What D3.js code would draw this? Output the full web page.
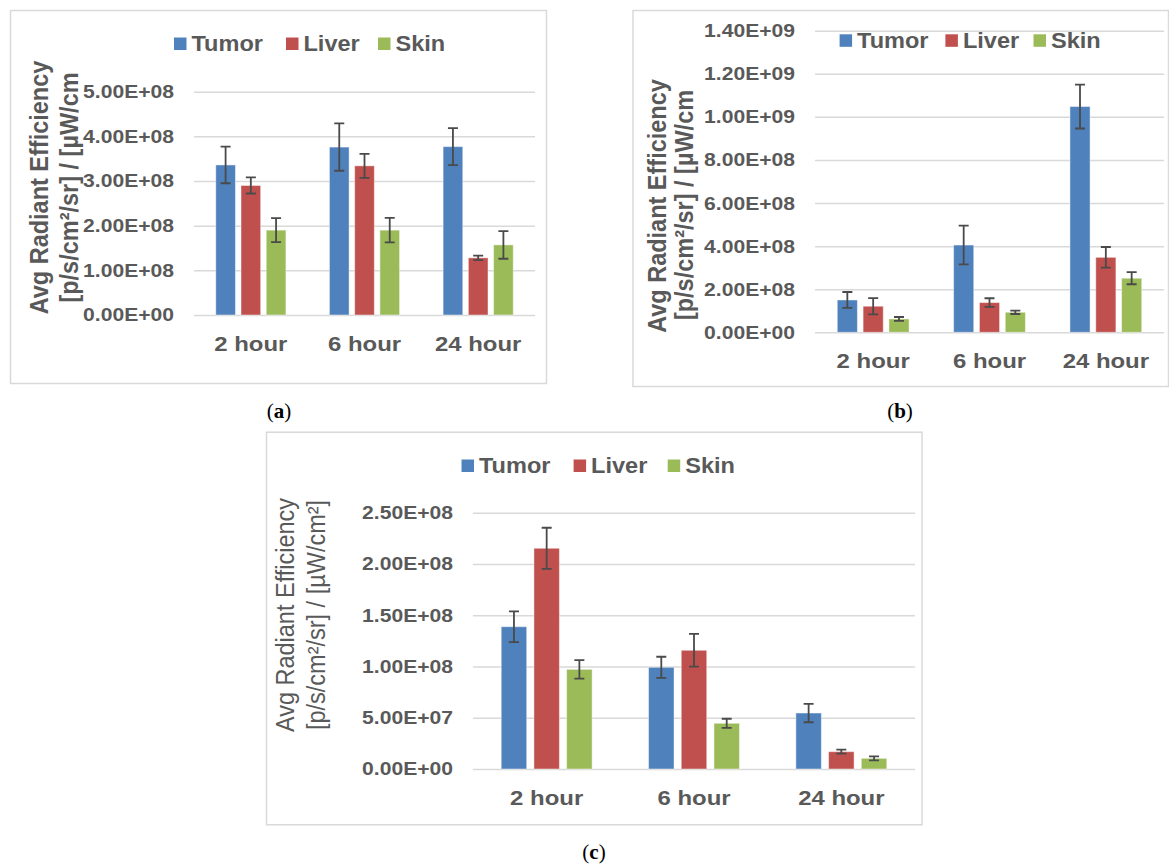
<!DOCTYPE html>
<html>
<head>
<meta charset="utf-8">
<script src="https://cdn.jsdelivr.net/npm/d3@7"></script>
<style>
  html, body { margin: 0; padding: 0; background: #ffffff; }
  svg { display: block; }
</style>
</head>
<body>
<svg id="fig" width="1169" height="864"></svg>
<script>
// Shared categories and series
const categories = ["2 hour", "6 hour", "24 hour"];
const seriesNames = ["Tumor", "Liver", "Skin"];
const seriesColors = ["#4F81BD", "#C0504D", "#9BBB59"];

// Panel (a): mean values and error (±) per series
const tumorA = [3.36e8, 3.76e8, 3.77e8];
const tumorErrA = [0.41e8, 0.53e8, 0.415e8];
const liverA = [2.90e8, 3.34e8, 1.28e8];
const liverErrA = [0.18e8, 0.27e8, 0.05e8];
const skinA = [1.90e8, 1.90e8, 1.57e8];
const skinErrA = [0.27e8, 0.275e8, 0.31e8];
const yTicksA = [0, 1e8, 2e8, 3e8, 4e8, 5e8];

// Panel (b)
const tumorB = [1.50e8, 4.05e8, 10.48e8];
const tumorErrB = [0.37e8, 0.90e8, 1.02e8];
const liverB = [1.21e8, 1.38e8, 3.48e8];
const liverErrB = [0.38e8, 0.20e8, 0.48e8];
const skinB = [0.62e8, 0.93e8, 2.51e8];
const skinErrB = [0.09e8, 0.08e8, 0.28e8];
const yTicksB = [0, 2e8, 4e8, 6e8, 8e8, 10e8, 12e8, 14e8];

// Panel (c)
const tumorC = [1.388e8, 0.992e8, 0.546e8];
const tumorErrC = [0.15e8, 0.103e8, 0.09e8];
const liverC = [2.153e8, 1.158e8, 0.169e8];
const liverErrC = [0.20e8, 0.16e8, 0.02e8];
const skinC = [0.972e8, 0.446e8, 0.104e8];
const skinErrC = [0.09e8, 0.044e8, 0.02e8];
const yTicksC = [0, 0.5e8, 1e8, 1.5e8, 2e8, 2.5e8];

// Axis titles
const titleLine1 = "Avg Radiant Efficiency";
const titleLine2Short = "[p/s/cm²/sr] / [µW/cm";
const titleLine2Full = "[p/s/cm²/sr] / [µW/cm²]";

const TEXT = "#595959";
const GRID = "#d9d9d9";
const FONT = "'Liberation Sans', Arial, sans-serif";

// Excel-style scientific labels: 5.00E+08
function sci(v) {
  const s = d3.format(".2e")(v);
  const [m, e] = s.split("e");
  return m + "E" + e[0] + e.slice(1).padStart(2, "0");
}

const svg = d3.select("#fig");
svg.append("rect").attr("width", 1169).attr("height", 864).attr("fill", "#fff");

function drawPanel(p) {
  const g = svg.append("g");

  // frame
  g.append("rect")
    .attr("x", p.box[0] + 0.5).attr("y", p.box[1] + 0.5)
    .attr("width", p.box[2] - p.box[0]).attr("height", p.box[3] - p.box[1])
    .attr("fill", "none").attr("stroke", GRID).attr("stroke-width", 1.5);

  const y = d3.scaleLinear().domain([0, p.yMax]).range([p.y0, p.yTop]);
  const x = d3.scaleBand().domain(categories).range([p.x0, p.x1]);
  const band = x.bandwidth();
  const barW = band * 0.173;
  const step = band * 0.222;
  const sub = d3.scalePoint().domain(seriesNames).range([-step, step]);

  // gridlines + tick labels
  const tickSx = 1.135;
  const yAxis = g.append("g")
    .attr("transform", `translate(${p.x0},0)`)
    .call(d3.axisLeft(y).tickValues(p.ticks).tickFormat(sci)
      .tickSize(-(p.x1 - p.x0)).tickPadding(20));
  yAxis.select(".domain").remove();
  yAxis.selectAll(".tick line").attr("stroke", GRID).attr("stroke-width", 1.5);
  yAxis.selectAll(".tick text")
    .attr("fill", TEXT).attr("font-family", FONT).attr("font-weight", "bold")
    .attr("font-size", 18.6)
    .attr("x", -20 / tickSx)
    .attr("transform", `scale(${tickSx},1)`);

  // bars
  const rows = [];
  p.series.forEach((s, i) => {
    categories.forEach((c, j) => {
      rows.push({ name: seriesNames[i], color: seriesColors[i], cat: c, v: s.values[j], e: s.err[j] });
    });
  });
  const cx = d => x(d.cat) + band / 2 + sub(d.name);

  g.append("g").selectAll("rect").data(rows).join("rect")
    .attr("x", d => cx(d) - barW / 2)
    .attr("y", d => y(d.v))
    .attr("width", barW)
    .attr("height", d => y(0) - y(d.v))
    .attr("fill", d => d.color)
    .attr("stroke", "#ffffff").attr("stroke-opacity", 0.45).attr("stroke-width", 1);

  // error bars
  const eb = g.append("g").attr("stroke", "#4a4a4a").attr("stroke-width", 1.8).attr("fill", "none");
  eb.selectAll("path").data(rows).join("path")
    .attr("d", d => {
      const xc = cx(d), t = y(d.v + d.e), b = y(d.v - d.e), hw = 5;
      return `M${xc},${t}V${b}M${xc - hw},${t}H${xc + hw}M${xc - hw},${b}H${xc + hw}`;
    });

  // category labels
  const labSx = 1.14;
  const xAxis = g.append("g")
    .attr("transform", `translate(0,${p.y0})`)
    .call(d3.axisBottom(x).tickSize(0).tickPadding(21));
  xAxis.select(".domain").remove();
  xAxis.selectAll(".tick text")
    .attr("fill", TEXT).attr("font-family", FONT).attr("font-weight", "bold")
    .attr("font-size", 21)
    .attr("transform", `scale(${labSx},1)`);

  // legend
  const legSx = 1.07;
  seriesNames.forEach((n, i) => {
    const lx = p.legendX[i];
    g.append("rect")
      .attr("x", lx).attr("y", p.legendY - 6)
      .attr("width", 12.5).attr("height", 12.5)
      .attr("fill", seriesColors[i]);
    g.append("text")
      .attr("transform", `translate(${lx + 17.5},${p.legendY + 7.5}) scale(${legSx},1)`)
      .attr("fill", TEXT).attr("font-family", FONT).attr("font-weight", "bold")
      .attr("font-size", 22)
      .text(n);
  });

  // rotated axis title (two lines)
  p.titles.forEach(t => {
    g.append("text")
      .attr("transform", `translate(${t.x},${t.y}) scale(1.12,1) rotate(-90)`)
      .attr("text-anchor", "middle").attr("dy", "0.32em")
      .attr("fill", TEXT).attr("font-family", FONT)
      .attr("font-weight", p.titleWeight).attr("font-size", 23.5)
      .text(t.text);
  });

  // caption
  const cap = svg.append("text")
    .attr("x", p.caption[0]).attr("y", p.caption[1])
    .attr("text-anchor", "middle")
    .attr("font-family", "'Liberation Serif', 'DejaVu Serif', serif")
    .attr("font-size", 21).attr("fill", "#000");
  cap.append("tspan").text("(");
  cap.append("tspan").attr("font-weight", "bold").text(p.letter);
  cap.append("tspan").text(")");
}

drawPanel({
  box: [10, 10, 546, 383],
  x0: 194, x1: 535, y0: 315, yTop: 91.7, yMax: 5e8, ticks: yTicksA,
  series: [
    { values: tumorA, err: tumorErrA },
    { values: liverA, err: liverErrA },
    { values: skinA, err: skinErrA }
  ],
  legendY: 43.5, legendX: [174, 286, 378],
  titleWeight: "bold",
  titles: [{ x: 40, y: 187.5, text: titleLine1 }, { x: 70, y: 187.5, text: titleLine2Short }],
  caption: [279, 418], letter: "a"
});

drawPanel({
  box: [632.5, 10, 1168, 386],
  x0: 815, x1: 1164, y0: 332.3, yTop: 30.7, yMax: 1.4e9, ticks: yTicksB,
  series: [
    { values: tumorB, err: tumorErrB },
    { values: liverB, err: liverErrB },
    { values: skinB, err: skinErrB }
  ],
  legendY: 40.3, legendX: [839.6, 945.4, 1033.5],
  titleWeight: "bold",
  titles: [{ x: 657.3, y: 206, text: titleLine1 }, { x: 684.6, y: 205, text: titleLine2Short }],
  caption: [900, 418], letter: "b"
});

drawPanel({
  box: [266, 431.7, 921.5, 824.3],
  x0: 473, x1: 915, y0: 769, yTop: 512.7, yMax: 2.5e8, ticks: yTicksC,
  series: [
    { values: tumorC, err: tumorErrC },
    { values: liverC, err: liverErrC },
    { values: skinC, err: skinErrC }
  ],
  legendY: 465.5, legendX: [461.5, 573.6, 667.7],
  titleWeight: "normal",
  titles: [{ x: 285.7, y: 615, text: titleLine1 }, { x: 316.5, y: 615, text: titleLine2Full }],
  caption: [594, 859], letter: "c"
});
</script>
</body>
</html>
